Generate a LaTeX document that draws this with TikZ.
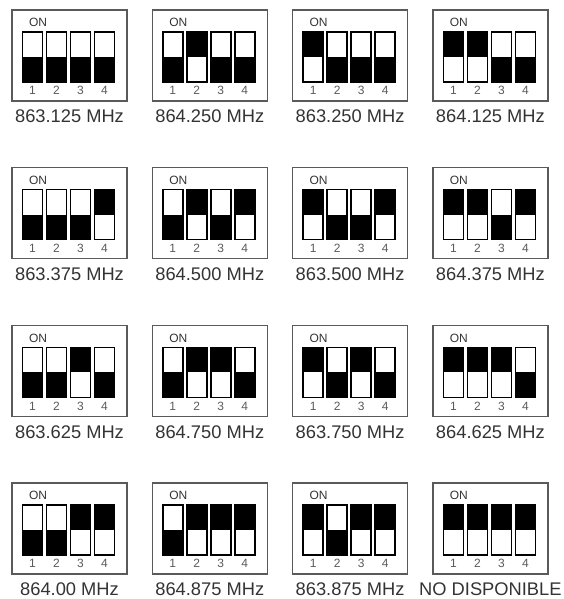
\documentclass[tikz,border=0pt]{standalone}
\usepackage{fontspec}
\setmainfont{Liberation Sans}
\usetikzlibrary{positioning}
\definecolor{cframe}{HTML}{5A5A5A}
\definecolor{ctext}{HTML}{333333}
\tikzset{
  every picture/.style={x=1pt, y=-1pt, line width=1.2pt},
  frame/.style={draw=cframe, line width=1.3pt},
  slot/.style={draw=black, line width=1.4pt, fill=white},
  onlbl/.style={font=\fontsize{12}{13}\selectfont, text=ctext, inner sep=0pt},
  num/.style={font=\fontsize{12}{13}\selectfont, text=cframe, inner sep=0pt},
  freq/.style={font=\fontsize{18.3}{20}\selectfont, text=ctext, inner sep=0pt},
}

\begin{document}
\begin{tikzpicture}
  \useasboundingbox (0,0) rectangle (563,599);
  % one DIP switch per channel, ON = black at top
  \foreach \lbl/\a/\b/\c/\d [count=\i from 0] in {
      863.125 MHz/0/0/0/0, 864.250 MHz/0/1/0/0, 863.250 MHz/1/0/0/0, 864.125 MHz/1/1/0/0,
      863.375 MHz/0/0/0/1, 864.500 MHz/0/1/0/1, 863.500 MHz/1/0/0/1, 864.375 MHz/1/1/0/1,
      863.625 MHz/0/0/1/0, 864.750 MHz/0/1/1/0, 863.750 MHz/1/0/1/0, 864.625 MHz/1/1/1/0,
      864.00 MHz/0/0/1/1, 864.875 MHz/0/1/1/1, 863.875 MHz/1/0/1/1, NO DISPONIBLE/1/1/1/1} {
    \pgfmathtruncatemacro{\col}{mod(\i,4)}
    \pgfmathtruncatemacro{\row}{div(\i,4)}
    \begin{scope}[shift={(\col*140.3+12,\row*157.7+10)}]
      \draw[frame] (0,0) rectangle (115,91);
      \node[onlbl] (on\i) at (26,12.5) {ON};
      \foreach \s [count=\n] in {\a,\b,\c,\d} {
        \draw[slot] ({10.5+(\n-1)*24},22) rectangle ++(20,50);
        \fill[black] ({10.5+(\n-1)*24},{22+25*(1-\s)}) rectangle ++(20,25);
        \node[num] (n\i-\n) at ({20.5+(\n-1)*24},80.5) {\n};
      }
      \node[freq] (f\i) at (57.5,106.5) {\lbl};
    \end{scope}
  }
\end{tikzpicture}
\end{document}
